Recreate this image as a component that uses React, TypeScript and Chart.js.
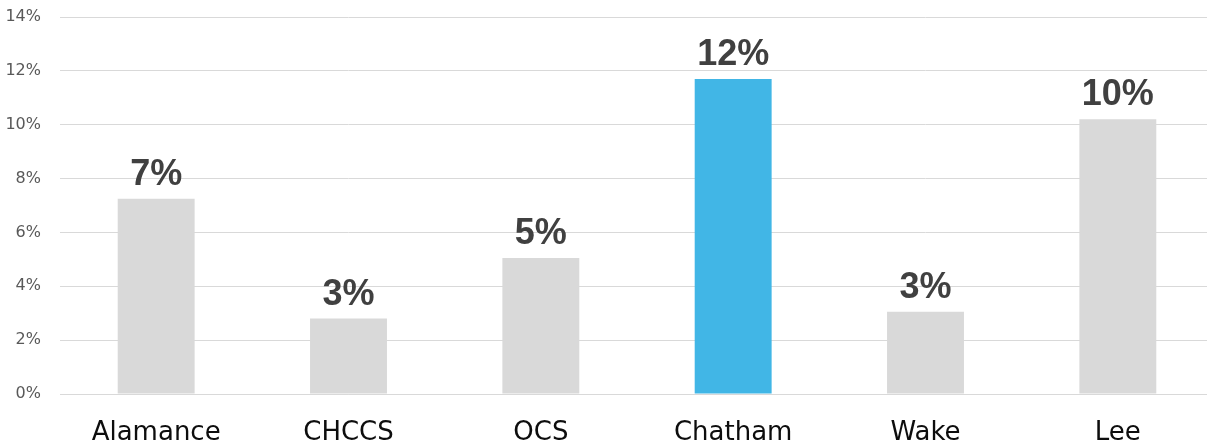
import React, { useEffect, useRef } from "react";
import { Chart, registerables } from "chart.js";

Chart.register(...registerables);

const categories = ["Alamance", "CHCCS", "OCS", "Chatham", "Wake", "Lee"];
const values = [7.25, 2.8, 5.05, 11.7, 3.05, 10.2];
const barColors = ["#d9d9d9", "#d9d9d9", "#d9d9d9", "#41b6e6", "#d9d9d9", "#d9d9d9"];

const labelPlugin = {
  id: "barLabels",
  afterDatasetsDraw(chart: any) {
    const ctx = chart.ctx;
    const meta = chart.getDatasetMeta(0);
    ctx.save();
    ctx.font = "bold 36px 'Liberation Sans', Arial, sans-serif";
    ctx.fillStyle = "#404040";
    ctx.textAlign = "center";
    ctx.textBaseline = "alphabetic";
    meta.data.forEach((bar: any, i: number) => {
      ctx.fillText(Math.round(values[i]) + "%", bar.x, bar.y - 14);
    });
    ctx.restore();
  },
};

export default function App() {
  const ref = useRef<HTMLCanvasElement | null>(null);
  useEffect(() => {
    if (!ref.current) return;
    const chart = new Chart(ref.current, {
      type: "bar",
      data: {
        labels: categories,
        datasets: [
          {
            data: values,
            backgroundColor: barColors,
            barPercentage: 0.4,
            categoryPercentage: 1,
          },
        ],
      },
      options: {
        animation: false,
        responsive: false,
        layout: { padding: { top: 17, right: 0, left: 0, bottom: 0 } },
        plugins: { legend: { display: false }, tooltip: { enabled: false } },
        scales: {
          x: {
            grid: { display: false, drawTicks: false },
            border: { color: "#d9d9d9", width: 1 },
            ticks: {
              color: "#0d0d0d",
              font: { family: "'DejaVu Sans', sans-serif", size: 26 },
              padding: 24,
              maxRotation: 0,
              autoSkip: false,
            },
            afterFit: (s: any) => {
              s.height = 53;
              s.paddingLeft = 0;
              s.paddingRight = 0;
            },
          },
          y: {
            min: 0,
            max: 14,
            grid: { color: "#d9d9d9", drawTicks: false },
            border: { display: false },
            ticks: {
              stepSize: 2,
              color: "#595959",
              font: { family: "'DejaVu Sans', sans-serif", size: 16 },
              padding: 19,
              callback: (v: any) => v + "%",
            },
            afterFit: (s: any) => {
              s.width = 60;
              s.paddingTop = 0;
              s.paddingBottom = 0;
            },
          },
        },
      },
      plugins: [labelPlugin],
    });
    return () => chart.destroy();
  }, []);
  return (
    <div style={{ position: "fixed", left: 0, top: 0, width: 1207, height: 447, overflow: "hidden", background: "#fff" }}>
      <canvas ref={ref} width={1214} height={447} style={{ display: "block" }} />
    </div>
  );
}
